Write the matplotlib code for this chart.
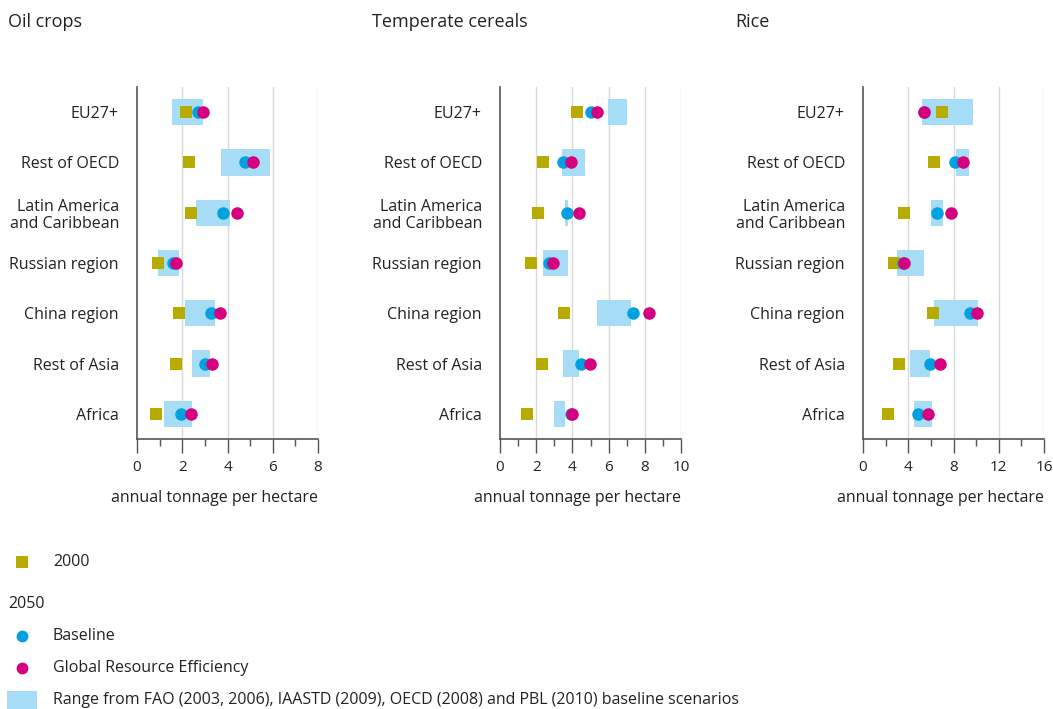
import matplotlib
matplotlib.use("Agg")
import matplotlib.pyplot as plt
import numpy as np
from matplotlib.ticker import MultipleLocator

plt.rcParams['font.family'] = ['Open Sans', 'DejaVu Sans']

regions = ["EU27+", "Rest of OECD", "Latin America\nand Caribbean", "Russian region",
           "China region", "Rest of Asia", "Africa"]

titles = ["Oil crops", "Temperate cereals", "Rice"]
xmax = [8, 10, 16]
major_step = [2, 2, 4]

# 2000 values
oil_2000 = [2.17, 2.28, 2.40, 0.94, 1.85, 1.73, 0.85]
cer_2000 = [4.27, 2.36, 2.12, 1.70, 3.52, 2.34, 1.47]
rice_2000 = [7.0, 6.27, 3.65, 2.71, 6.15, 3.15, 2.21]

# 2050 Baseline
oil_base = [2.69, 4.77, 3.81, 1.61, 3.28, 3.02, 1.96]
cer_base = [5.05, 3.50, 3.72, 2.73, 7.33, 4.46, 3.91]
rice_base = [5.35, 8.15, 6.56, 3.53, 9.50, 5.91, 4.82]

# 2050 Global Resource Efficiency
oil_gre = [2.93, 5.13, 4.44, 1.71, 3.68, 3.30, 2.37]
cer_gre = [5.36, 3.94, 4.37, 2.95, 8.25, 4.96, 3.96]
rice_gre = [5.41, 8.85, 7.74, 3.62, 10.06, 6.80, 5.71]

# Range from literature baseline scenarios (low, high)
oil_lo = [1.55, 3.71, 2.61, 0.94, 2.12, 2.43, 1.20]
oil_hi = [2.92, 5.86, 4.10, 1.86, 3.44, 3.22, 2.43]
cer_lo = [5.95, 3.41, 3.57, 2.36, 5.34, 3.46, 2.97]
cer_hi = [7.00, 4.68, 3.74, 3.74, 7.22, 4.35, 3.57]
rice_lo = [5.21, 8.21, 6.00, 3.00, 6.27, 4.15, 4.50]
rice_hi = [9.71, 9.36, 7.06, 5.38, 10.15, 5.91, 6.09]

data = [
    (oil_2000, oil_base, oil_gre, oil_lo, oil_hi),
    (cer_2000, cer_base, cer_gre, cer_lo, cer_hi),
    (rice_2000, rice_base, rice_gre, rice_lo, rice_hi),
]

c_sq = "#b8ab00"
c_blue = "#00a0e1"
c_mag = "#d5007f"
c_range = "#a7dcf6"
c_text = "#222222"
c_axis = "#555555"
c_grid = "#d9d9d9"

FS = 11.5

W, H = 1053, 709
fig = plt.figure(figsize=(W / 100, H / 100), dpi=100)

lefts = [137, 500, 863]
title_x = [8, 372, 735]
ax_w = 181
ax_top = 87
ax_bot = 439

y = np.arange(len(regions))

for i in range(3):
    ax = fig.add_axes([lefts[i] / W, (H - ax_bot) / H, ax_w / W, (ax_bot - ax_top) / H])
    d2000, dbase, dgre, lo, hi = data[i]
    lo = np.array(lo); hi = np.array(hi)
    ax.barh(y, hi - lo, left=lo, height=0.52, color=c_range, zorder=2, linewidth=0)
    ax.plot(d2000, y, linestyle='none', marker='s', markersize=9, color=c_sq, zorder=3,
            markeredgewidth=0)
    ax.plot(dbase, y, linestyle='none', marker='o', markersize=9, color=c_blue, zorder=4,
            markeredgewidth=0)
    ax.plot(dgre, y, linestyle='none', marker='o', markersize=9, color=c_mag, zorder=5,
            markeredgewidth=0)
    ax.set_xlim(0, xmax[i])
    ax.set_ylim(len(regions) - 0.5, -0.5)
    ax.set_yticks(y)
    ax.set_yticklabels(regions, fontsize=FS, color=c_text, ha='right', linespacing=1.1)
    ax.tick_params(axis='y', length=0, pad=13)
    ax.xaxis.set_major_locator(MultipleLocator(major_step[i]))
    ax.xaxis.set_minor_locator(MultipleLocator(major_step[i] / 2))
    ax.tick_params(axis='x', which='major', length=10, width=1, color=c_axis,
                   labelsize=11, labelcolor=c_text, pad=5)
    ax.tick_params(axis='x', which='minor', length=5, width=1, color=c_axis)
    for s in ['top', 'right']:
        ax.spines[s].set_visible(False)
    for s in ['left', 'bottom']:
        ax.spines[s].set_color(c_axis)
        ax.spines[s].set_linewidth(1.2)
    for xv in np.arange(major_step[i], xmax[i] + 0.01, major_step[i]):
        ax.axvline(xv, color=c_grid, linewidth=1, zorder=1)
    ax.set_xlabel("annual tonnage per hectare", fontsize=FS, color=c_text)
    ax.xaxis.set_label_coords(0.43, -0.167)
    ax.xaxis.label.set_va('center')
    fig.text(title_x[i] / W, 1 - 22 / H, titles[i], fontsize=13, color=c_text,
             ha='left', va='center')

# Legend
def px(x, yy):
    return x / W, 1 - yy / H

fig.lines.append(plt.Line2D([22 / W], [1 - 562 / H], marker='s', markersize=9,
                            color=c_sq, markeredgewidth=0, linestyle='none',
                            transform=fig.transFigure))
fig.text(*px(53, 562), "2000", fontsize=FS, color=c_text, ha='left', va='center')
fig.text(*px(8, 604), "2050", fontsize=FS, color=c_text, ha='left', va='center')
fig.lines.append(plt.Line2D([22 / W], [1 - 636 / H], marker='o', markersize=8.5,
                            color=c_blue, markeredgewidth=0, linestyle='none',
                            transform=fig.transFigure))
fig.text(*px(53, 636), "Baseline", fontsize=FS, color=c_text, ha='left', va='center')
fig.lines.append(plt.Line2D([22 / W], [1 - 668 / H], marker='o', markersize=8.5,
                            color=c_mag, markeredgewidth=0, linestyle='none',
                            transform=fig.transFigure))
fig.text(*px(53, 668), "Global Resource Efficiency", fontsize=FS, color=c_text,
         ha='left', va='center')
fig.patches.append(plt.Rectangle((7 / W, 1 - 709 / H), 30 / W, 18 / H, color=c_range,
                                 transform=fig.transFigure, linewidth=0))
fig.text(*px(53, 700), "Range from FAO (2003, 2006), IAASTD (2009), OECD (2008) and PBL (2010) baseline scenarios",
         fontsize=FS, color=c_text, ha='left', va='center')

fig.savefig("out.png", dpi=100)
